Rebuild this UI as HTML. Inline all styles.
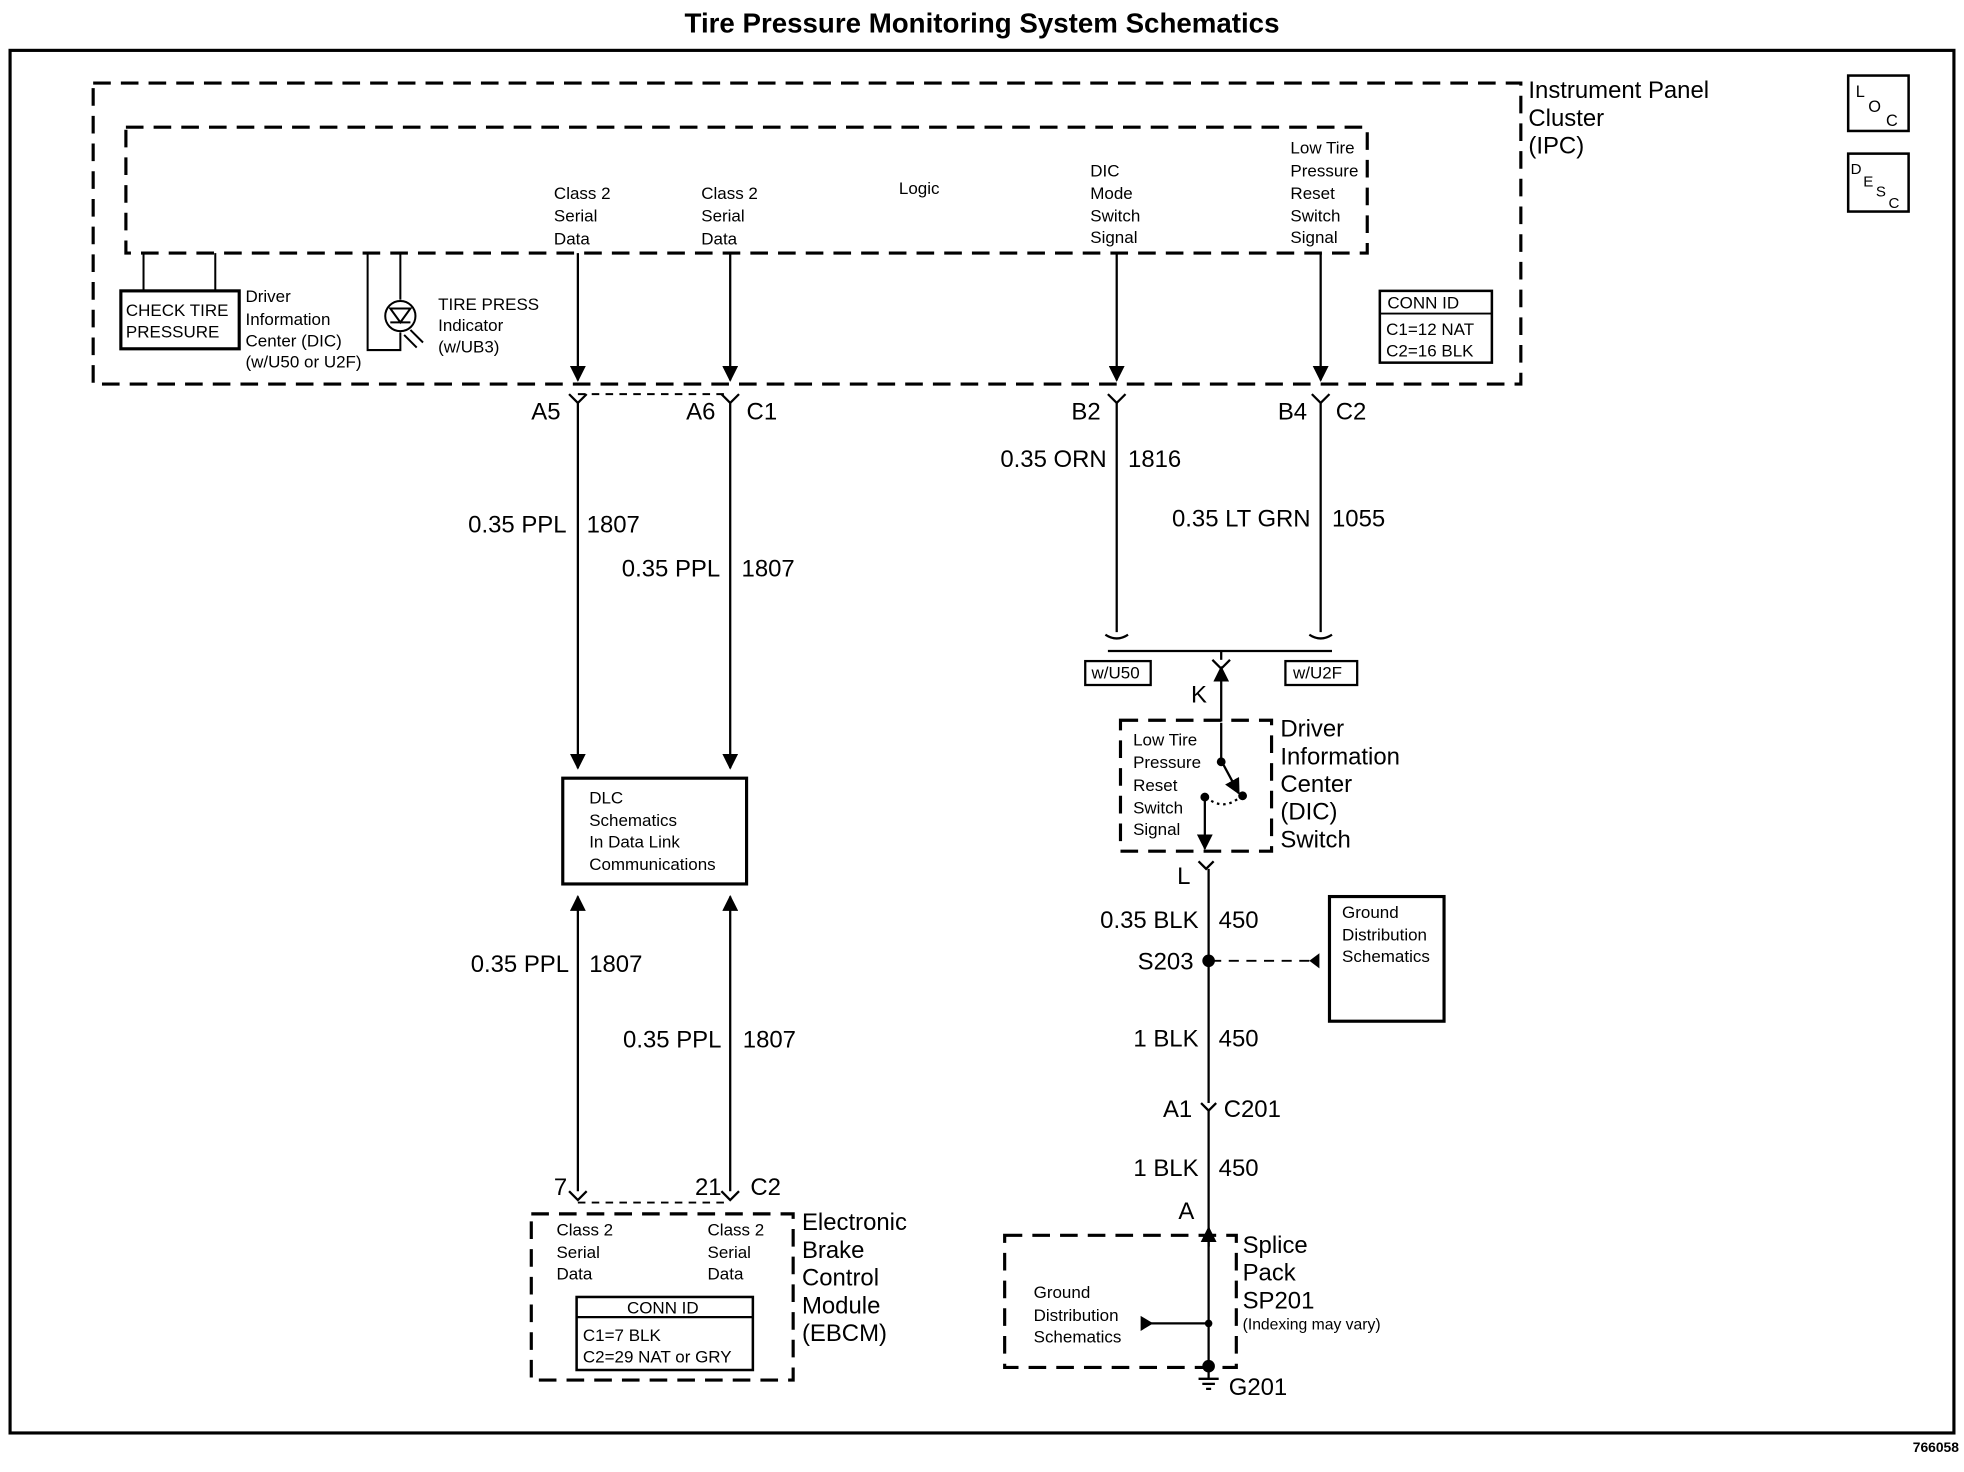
<!DOCTYPE html>
<html><head><meta charset="utf-8"><style>
html,body{margin:0;padding:0;background:#fff}
svg{display:block}
text{font-family:"Liberation Sans",Arial,sans-serif;fill:#000}
.s{font-size:13.5px}.m{font-size:19px}.l{font-size:18px}
</style></head><body>
<svg width="1964" height="1472" viewBox="0 0 1560 1169" preserveAspectRatio="none" xmlns="http://www.w3.org/2000/svg">
<defs>
<marker id="ad" viewBox="0 0 10 10" refX="9" refY="5" markerWidth="7" markerHeight="7" orient="auto"><path d="M0,0L10,5L0,10z" fill="#000"/></marker>
</defs>
<text x="780" y="26" text-anchor="middle" font-size="22" font-weight="bold">Tire Pressure Monitoring System Schematics</text>
<rect x="8" y="40" width="1544" height="1098" fill="none" stroke="#000" stroke-width="2.5"/>
<text x="1556" y="1153" text-anchor="end" font-size="11" font-weight="bold">766058</text>
<g fill="none" stroke="#000" stroke-width="2.5" stroke-dasharray="14,8">
<rect x="74" y="66" width="1134" height="239"/>
<rect x="100" y="101" width="986" height="100"/>
<rect x="890" y="572" width="120" height="104"/>
<rect x="798" y="981" width="184" height="105"/>
<rect x="422" y="964" width="208" height="132"/>
<line x1="459" y1="313" x2="580" y2="313" stroke-width="1.5" stroke-dasharray="6,5"/>
<line x1="459" y1="955" x2="580" y2="955" stroke-width="1.5" stroke-dasharray="6,5"/>
<line x1="962" y1="763" x2="1040" y2="763" stroke-width="1.5" stroke-dasharray="8,6"/>
</g>
<text class="m" x="1214" y="78">Instrument Panel</text>
<text class="m" x="1214" y="100">Cluster</text>
<text class="m" x="1214" y="122">(IPC)</text>
<rect x="1468" y="60" width="48" height="44" fill="none" stroke="#000" stroke-width="2"/>
<text x="1474" y="77" font-size="13">L</text><text x="1484" y="89" font-size="13">O</text><text x="1498" y="100" font-size="13">C</text>
<rect x="1468" y="122" width="48" height="46" fill="none" stroke="#000" stroke-width="2"/>
<text x="1470" y="138" font-size="12">D</text><text x="1480" y="148" font-size="12">E</text><text x="1490" y="156" font-size="12">S</text><text x="1500" y="165" font-size="12">C</text>
<g stroke="#000" stroke-width="1.6" fill="none">
<rect x="96" y="231" width="94" height="46" stroke-width="2.5"/>
<polyline points="114,231 114,201"/><polyline points="171,231 171,201"/>
<polyline points="292,201 292,278 318,278 318,264"/>
<polyline points="318,201 318,238"/>
<circle cx="318" cy="251" r="12"/>
<path d="M310,245 L326,245 L318,256z M310,256 L326,256"/>
<path d="M326,262 L336,272 M321,266 L331,276"/>
</g>
<text class="s" x="100" y="251">CHECK TIRE</text><text class="s" x="100" y="268">PRESSURE</text>
<g class="s"><text x="195" y="240">Driver</text><text x="195" y="258">Information</text><text x="195" y="275">Center (DIC)</text><text x="195" y="292">(w/U50 or U2F)</text>
<text x="348" y="246">TIRE PRESS</text><text x="348" y="263">Indicator</text><text x="348" y="280">(w/UB3)</text>
<text x="440" y="158">Class 2</text><text x="440" y="176">Serial</text><text x="440" y="194">Data</text>
<text x="557" y="158">Class 2</text><text x="557" y="176">Serial</text><text x="557" y="194">Data</text>
<text x="714" y="154">Logic</text>
<text x="866" y="140">DIC</text><text x="866" y="158">Mode</text><text x="866" y="176">Switch</text><text x="866" y="193">Signal</text>
<text x="1025" y="122">Low Tire</text><text x="1025" y="140">Pressure</text><text x="1025" y="158">Reset</text><text x="1025" y="176">Switch</text><text x="1025" y="193">Signal</text>
<text x="1102" y="245">CONN ID</text><text x="1101" y="266">C1=12 NAT</text><text x="1101" y="283">C2=16 BLK</text>
</g>
<rect x="1096" y="231" width="89" height="57" fill="none" stroke="#000" stroke-width="2"/>
<line x1="1096" y1="249" x2="1185" y2="249" stroke="#000" stroke-width="1.5"/>
<g stroke="#000" stroke-width="1.8" fill="none">
<line x1="459" y1="201" x2="459" y2="302" marker-end="url(#ad)"/>
<line x1="580" y1="201" x2="580" y2="302" marker-end="url(#ad)"/>
<line x1="887" y1="201" x2="887" y2="302" marker-end="url(#ad)"/>
<line x1="1049" y1="201" x2="1049" y2="302" marker-end="url(#ad)"/>
<path d="M452,313 L459,320 L466,313 M573,313 L580,320 L587,313 M880,313 L887,320 L894,313 M1042,313 L1049,320 L1056,313"/>
<line x1="459" y1="320" x2="459" y2="610" marker-end="url(#ad)"/>
<line x1="580" y1="320" x2="580" y2="610" marker-end="url(#ad)"/>
<line x1="887" y1="320" x2="887" y2="502"/>
<line x1="1049" y1="320" x2="1049" y2="502"/>
<path d="M878,504 Q887,510 896,504 M1040,504 Q1049,510 1058,504"/>
<polyline points="880,517 1058,517"/>
<line x1="970" y1="517" x2="970" y2="524"/>
<path d="M963,524 L970,531 L977,524"/>
<line x1="970" y1="531" x2="970" y2="574" marker-end="url(#ad)" transform="rotate(180 970 552)"/>
<line x1="970" y1="574" x2="970" y2="604"/>
<line x1="970" y1="604" x2="984" y2="630" marker-end="url(#ad)"/>
<path d="M958,633 Q972,645 986,632" stroke-dasharray="2,3"/>
<line x1="957" y1="633" x2="957" y2="674" marker-end="url(#ad)"/>
<path d="M952,684 L958,690 L964,684"/>
<line x1="960" y1="690" x2="960" y2="876"/>
<path d="M954,876 L960,882 L966,876"/>
<line x1="960" y1="882" x2="960" y2="1085"/>
<line x1="960" y1="990" x2="960" y2="975" marker-end="url(#ad)"/>
<line x1="908" y1="1051" x2="960" y2="1051"/>
<line x1="960" y1="1085" x2="960" y2="1095"/>
<path d="M952,1095 L968,1095 M955,1099 L965,1099 M958,1103 L962,1103"/>
<line x1="459" y1="946" x2="459" y2="712" marker-end="url(#ad)"/>
<line x1="580" y1="946" x2="580" y2="712" marker-end="url(#ad)"/>
<path d="M452,946 L459,953 L466,946 M573,946 L580,953 L587,946"/>
<rect x="447" y="618" width="146" height="84" stroke-width="2.5"/>
<rect x="1056" y="712" width="91" height="99" stroke-width="2.5"/>
<rect x="458" y="1030" width="140" height="58" stroke-width="2"/>
<line x1="458" y1="1046" x2="598" y2="1046"/>
<rect x="862" y="525" width="52" height="19"/>
<rect x="1021" y="525" width="57" height="19"/>
</g>
<path d="M1040,757 L1048,763 L1040,769z" transform="rotate(180 1044 763)" fill="#000"/>
<path d="M906,1045 L916,1051 L906,1057z" fill="#000"/>
<g fill="#000"><circle cx="970" cy="605" r="3.5"/><circle cx="987" cy="632" r="3.5"/><circle cx="957" cy="633" r="3.5"/><circle cx="960" cy="763" r="5"/><circle cx="960" cy="1051" r="3"/><circle cx="960" cy="1085" r="5"/></g>
<g class="m">
<text x="422" y="333">A5</text><text x="545" y="333">A6</text><text x="593" y="333">C1</text><text x="851" y="333">B2</text><text x="1015" y="333">B4</text><text x="1061" y="333">C2</text>
<text x="450" y="423" text-anchor="end">0.35 PPL</text><text x="466" y="423">1807</text>
<text x="572" y="458" text-anchor="end">0.35 PPL</text><text x="589" y="458">1807</text>
<text x="879" y="371" text-anchor="end">0.35 ORN</text><text x="896" y="371">1816</text>
<text x="1041" y="418" text-anchor="end">0.35 LT GRN</text><text x="1058" y="418">1055</text>
<text x="452" y="772" text-anchor="end">0.35 PPL</text><text x="468" y="772">1807</text>
<text x="573" y="832" text-anchor="end">0.35 PPL</text><text x="590" y="832">1807</text>
<text x="946" y="558">K</text><text x="935" y="702">L</text>
<text x="952" y="737" text-anchor="end">0.35 BLK</text><text x="968" y="737">450</text>
<text x="948" y="770" text-anchor="end">S203</text>
<text x="952" y="831" text-anchor="end">1 BLK</text><text x="968" y="831">450</text>
<text x="947" y="887" text-anchor="end">A1</text><text x="972" y="887">C201</text>
<text x="952" y="934" text-anchor="end">1 BLK</text><text x="968" y="934">450</text>
<text x="936" y="968">A</text><text x="976" y="1108">G201</text>
<text x="440" y="949">7</text><text x="552" y="949">21</text><text x="596" y="949">C2</text>
<text x="1017" y="585">Driver</text><text x="1017" y="607">Information</text><text x="1017" y="629">Center</text><text x="1017" y="651">(DIC)</text><text x="1017" y="673">Switch</text>
<text x="987" y="995">Splice</text><text x="987" y="1017">Pack</text><text x="987" y="1039">SP201</text>
<text x="637" y="977">Electronic</text><text x="637" y="999">Brake</text><text x="637" y="1021">Control</text><text x="637" y="1043">Module</text><text x="637" y="1065">(EBCM)</text>
</g>
<g class="s">
<text x="987" y="1056" font-size="12.5">(Indexing may vary)</text>
<text x="468" y="638">DLC</text><text x="468" y="656">Schematics</text><text x="468" y="673">In Data Link</text><text x="468" y="691">Communications</text>
<text x="867" y="539">w/U50</text><text x="1027" y="539">w/U2F</text>
<text x="900" y="592">Low Tire</text><text x="900" y="610">Pressure</text><text x="900" y="628">Reset</text><text x="900" y="646">Switch</text><text x="900" y="663">Signal</text>
<text x="1066" y="729">Ground</text><text x="1066" y="747">Distribution</text><text x="1066" y="764">Schematics</text>
<text x="821" y="1031">Ground</text><text x="821" y="1049">Distribution</text><text x="821" y="1066">Schematics</text>
<text x="442" y="981">Class 2</text><text x="442" y="999">Serial</text><text x="442" y="1016">Data</text>
<text x="562" y="981">Class 2</text><text x="562" y="999">Serial</text><text x="562" y="1016">Data</text>
<text x="498" y="1043">CONN ID</text><text x="463" y="1065">C1=7 BLK</text><text x="463" y="1082">C2=29 NAT or GRY</text>
</g>
</svg>
</body></html>
